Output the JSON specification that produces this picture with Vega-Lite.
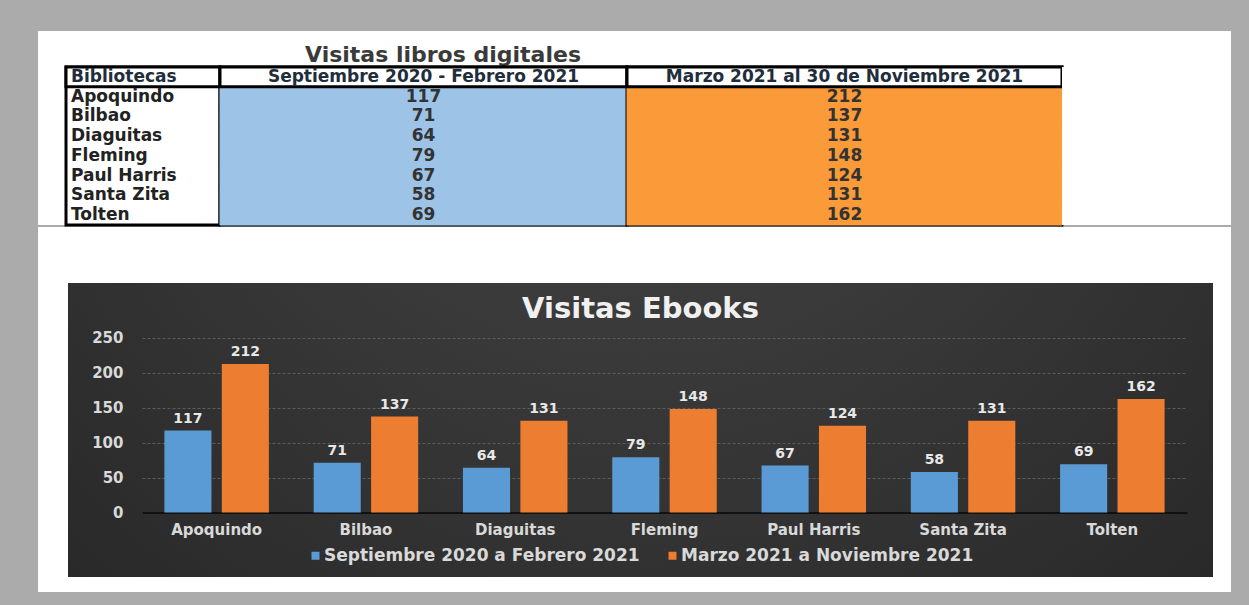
{
  "$schema": "https://vega.github.io/schema/vega-lite/v6.json",
  "background": "#ababab",
  "padding": {"left": 38, "top": 31, "right": 18, "bottom": 13},
  "spacing": -3,
  "config": {
    "font": "DejaVu Sans",
    "view": {"stroke": null},
    "axis": {"labelFont": "DejaVu Sans"},
    "legend": {"labelFont": "DejaVu Sans"},
    "title": {"font": "DejaVu Sans"},
    "text": {"font": "DejaVu Sans"}
  },
  "data": {
    "values": [
      {"biblioteca": "Apoquindo", "periodo": "Septiembre 2020 a Febrero 2021", "visitas": 117},
      {"biblioteca": "Bilbao", "periodo": "Septiembre 2020 a Febrero 2021", "visitas": 71},
      {"biblioteca": "Diaguitas", "periodo": "Septiembre 2020 a Febrero 2021", "visitas": 64},
      {"biblioteca": "Fleming", "periodo": "Septiembre 2020 a Febrero 2021", "visitas": 79},
      {"biblioteca": "Paul Harris", "periodo": "Septiembre 2020 a Febrero 2021", "visitas": 67},
      {"biblioteca": "Santa Zita", "periodo": "Septiembre 2020 a Febrero 2021", "visitas": 58},
      {"biblioteca": "Tolten", "periodo": "Septiembre 2020 a Febrero 2021", "visitas": 69},
      {"biblioteca": "Apoquindo", "periodo": "Marzo 2021 a Noviembre 2021", "visitas": 212},
      {"biblioteca": "Bilbao", "periodo": "Marzo 2021 a Noviembre 2021", "visitas": 137},
      {"biblioteca": "Diaguitas", "periodo": "Marzo 2021 a Noviembre 2021", "visitas": 131},
      {"biblioteca": "Fleming", "periodo": "Marzo 2021 a Noviembre 2021", "visitas": 148},
      {"biblioteca": "Paul Harris", "periodo": "Marzo 2021 a Noviembre 2021", "visitas": 124},
      {"biblioteca": "Santa Zita", "periodo": "Marzo 2021 a Noviembre 2021", "visitas": 131},
      {"biblioteca": "Tolten", "periodo": "Marzo 2021 a Noviembre 2021", "visitas": 162}
    ]
  },
  "vconcat": [
    {
      "width": 1193, "height": 36,
      "view": {"fill": "#ffffff"},
      "title": {"text": "Visitas libros digitales", "anchor": "start", "frame": "group", "dx": 267, "offset": -36, "fontSize": 22, "fontWeight": "bold", "color": "#3a3a3a"},
      "mark": {"type": "text"},
      "encoding": {"text": {"value": ""}}
    },
    {
      "spacing": 0,
      "bounds": "flush",
      "hconcat": [
        {"width": 28, "height": 158, "view": {"fill": "#ffffff"}, "mark": {"type": "text"}, "encoding": {"text": {"value": ""}}},
        {
          "width": 154, "height": 158,
          "view": {"fill": "#ffffff", "stroke": "#000000", "strokeWidth": 3},
          "encoding": {
            "y": {"field": "biblioteca", "type": "nominal", "sort": null, "axis": null,
              "scale": {"domain": ["Bibliotecas", "Apoquindo", "Bilbao", "Diaguitas", "Fleming", "Paul Harris", "Santa Zita", "Tolten"], "paddingInner": 0, "paddingOuter": 0}}
          },
          "layer": [
            {"data": {"values": [{"encabezado": "Bibliotecas"}]},
              "mark": {"type": "rect", "fill": "#ffffff", "stroke": "#000000", "strokeWidth": 3}, "encoding": {"y": {"datum": "Bibliotecas", "type": "nominal"}}},
            {"data": {"values": [{"encabezado": "Bibliotecas"}]},
              "mark": {"type": "text", "align": "left", "dx": 5, "fontSize": 17, "fontWeight": "bold", "color": "#1f2d3d"},
              "encoding": {"x": {"datum": 0, "type": "quantitative", "scale": {"domain": [0, 1]}, "axis": null}, "y": {"datum": "Bibliotecas", "type": "nominal"}, "text": {"field": "encabezado"}}},
            {"transform": [{"filter": "datum.periodo === 'Septiembre 2020 a Febrero 2021'"}],
              "mark": {"type": "text", "align": "left", "dx": 5, "fontSize": 17, "fontWeight": "bold", "color": "#222222"},
              "encoding": {"x": {"datum": 0, "type": "quantitative", "scale": {"domain": [0, 1]}, "axis": null}, "text": {"field": "biblioteca"}}}
          ]
        },
        {
          "width": 407, "height": 158,
          "view": {"fill": "#ffffff", "stroke": "#000000", "strokeWidth": 3},
          "encoding": {
            "y": {"field": "biblioteca", "type": "nominal", "sort": null, "axis": null,
              "scale": {"domain": ["Bibliotecas", "Apoquindo", "Bilbao", "Diaguitas", "Fleming", "Paul Harris", "Santa Zita", "Tolten"], "paddingInner": 0, "paddingOuter": 0}}
          },
          "layer": [
            {"transform": [{"filter": "datum.periodo === 'Septiembre 2020 a Febrero 2021'"}],
              "mark": {"type": "rect", "fill": "#9DC3E6", "stroke": "#9DC3E6", "strokeWidth": 1}},
            {"data": {"values": [{"encabezado": "Septiembre 2020 - Febrero 2021"}]},
              "mark": {"type": "rect", "fill": "#ffffff", "stroke": "#000000", "strokeWidth": 3}, "encoding": {"y": {"datum": "Bibliotecas", "type": "nominal"}}},
            {"data": {"values": [{"encabezado": "Septiembre 2020 - Febrero 2021"}]},
              "mark": {"type": "text", "fontSize": 17, "fontWeight": "bold", "color": "#1f2d3d"},
              "encoding": {"y": {"datum": "Bibliotecas", "type": "nominal"}, "text": {"field": "encabezado"}}},
            {"transform": [{"filter": "datum.periodo === 'Septiembre 2020 a Febrero 2021'"}],
              "mark": {"type": "text", "fontSize": 17, "fontWeight": "bold", "color": "#333333"},
              "encoding": {"text": {"field": "visitas"}}}
          ]
        },
        {
          "width": 435, "height": 158,
          "view": {"fill": "#ffffff", "stroke": "#000000", "strokeWidth": 3},
          "encoding": {
            "y": {"field": "biblioteca", "type": "nominal", "sort": null, "axis": null,
              "scale": {"domain": ["Bibliotecas", "Apoquindo", "Bilbao", "Diaguitas", "Fleming", "Paul Harris", "Santa Zita", "Tolten"], "paddingInner": 0, "paddingOuter": 0}}
          },
          "layer": [
            {"transform": [{"filter": "datum.periodo === 'Marzo 2021 a Noviembre 2021'"}],
              "mark": {"type": "rect", "fill": "#FA9A38", "stroke": "#FA9A38", "strokeWidth": 1}},
            {"data": {"values": [{"encabezado": "Marzo 2021 al 30 de Noviembre 2021"}]},
              "mark": {"type": "rect", "fill": "#ffffff", "stroke": "#000000", "strokeWidth": 3}, "encoding": {"y": {"datum": "Bibliotecas", "type": "nominal"}}},
            {"data": {"values": [{"encabezado": "Marzo 2021 al 30 de Noviembre 2021"}]},
              "mark": {"type": "text", "fontSize": 17, "fontWeight": "bold", "color": "#1f2d3d"},
              "encoding": {"y": {"datum": "Bibliotecas", "type": "nominal"}, "text": {"field": "encabezado"}}},
            {"transform": [{"filter": "datum.periodo === 'Marzo 2021 a Noviembre 2021'"}],
              "mark": {"type": "text", "fontSize": 17, "fontWeight": "bold", "color": "#333333"},
              "encoding": {"text": {"field": "visitas"}}}
          ]
        },
        {"width": 169, "height": 158, "view": {"fill": "#ffffff"}, "mark": {"type": "text"}, "encoding": {"text": {"value": ""}}}
      ]
    },
    {"width": 1193, "height": 56, "view": {"fill": "#ffffff"}, "mark": {"type": "text"}, "encoding": {"text": {"value": ""}}},
    {
      "spacing": 0,
      "bounds": "flush",
      "hconcat": [
        {"width": 30, "height": 294, "view": {"fill": "#ffffff"}, "mark": {"type": "text"}, "encoding": {"text": {"value": ""}}},
        {
          "width": 1145, "height": 294,
          "view": {"fill": {"gradient": "radial", "x1": 0.5, "y1": 0.1, "x2": 0.5, "y2": 0.1, "r1": 0, "r2": 0.8,
            "stops": [{"offset": 0, "color": "#474747"}, {"offset": 1, "color": "#262626"}]}},
          "title": {"text": "Visitas Ebooks", "anchor": "middle", "frame": "group", "offset": -41, "fontSize": 29, "fontWeight": "bold", "color": "#f0f0f0"},
          "encoding": {
            "x": {"field": "biblioteca", "type": "nominal", "sort": null,
              "scale": {"range": [74, 1119], "paddingInner": 0.3, "paddingOuter": 0.15},
              "axis": {"title": null, "labelAngle": 0, "offset": -64.5, "domainColor": "#111111", "domainWidth": 2, "ticks": false, "tickSize": 0, "labelPadding": 10, "labelColor": "#d9d9d9", "labelFontSize": 15, "labelFontWeight": "bold", "grid": false}},
            "xOffset": {"field": "periodo", "type": "nominal", "sort": null, "scale": {"paddingInner": 0.18}},
            "y": {"field": "visitas", "type": "quantitative",
              "scale": {"domain": [0, 250], "range": [229.5, 54.5]},
              "axis": {"title": null, "values": [0, 50, 100, 150, 200, 250], "offset": -63, "domain": false, "ticks": false, "tickSize": 0, "labelPadding": 8, "labelColor": "#d9d9d9", "labelFontSize": 15, "labelFontWeight": "bold", "grid": true, "gridColor": "#5c5c5c", "gridDash": [3, 2], "gridWidth": 1}}
          },
          "layer": [
            {"mark": {"type": "bar"},
              "encoding": {"color": {"field": "periodo", "type": "nominal", "sort": null,
                "scale": {"range": ["#5B9BD5", "#ED7D31"]},
                "legend": {"title": null, "orient": "none", "legendX": 269, "legendY": 516, "direction": "horizontal", "symbolType": "square", "symbolSize": 64, "symbolStrokeWidth": 0, "labelColor": "#d9d9d9", "labelFontSize": 17, "labelFontWeight": "bold", "labelLimit": 0, "columnPadding": 24, "labelOffset": 0}}}},
            {"mark": {"type": "text", "dy": -12, "fontSize": 14, "fontWeight": "bold", "color": "#e8e8e8"},
              "encoding": {"text": {"field": "visitas"}}}
          ]
        },
        {"width": 18, "height": 294, "view": {"fill": "#ffffff"}, "mark": {"type": "text"}, "encoding": {"text": {"value": ""}}}
      ]
    },
    {"width": 1193, "height": 15, "view": {"fill": "#ffffff"}, "mark": {"type": "text"}, "encoding": {"text": {"value": ""}}}
  ]
}
